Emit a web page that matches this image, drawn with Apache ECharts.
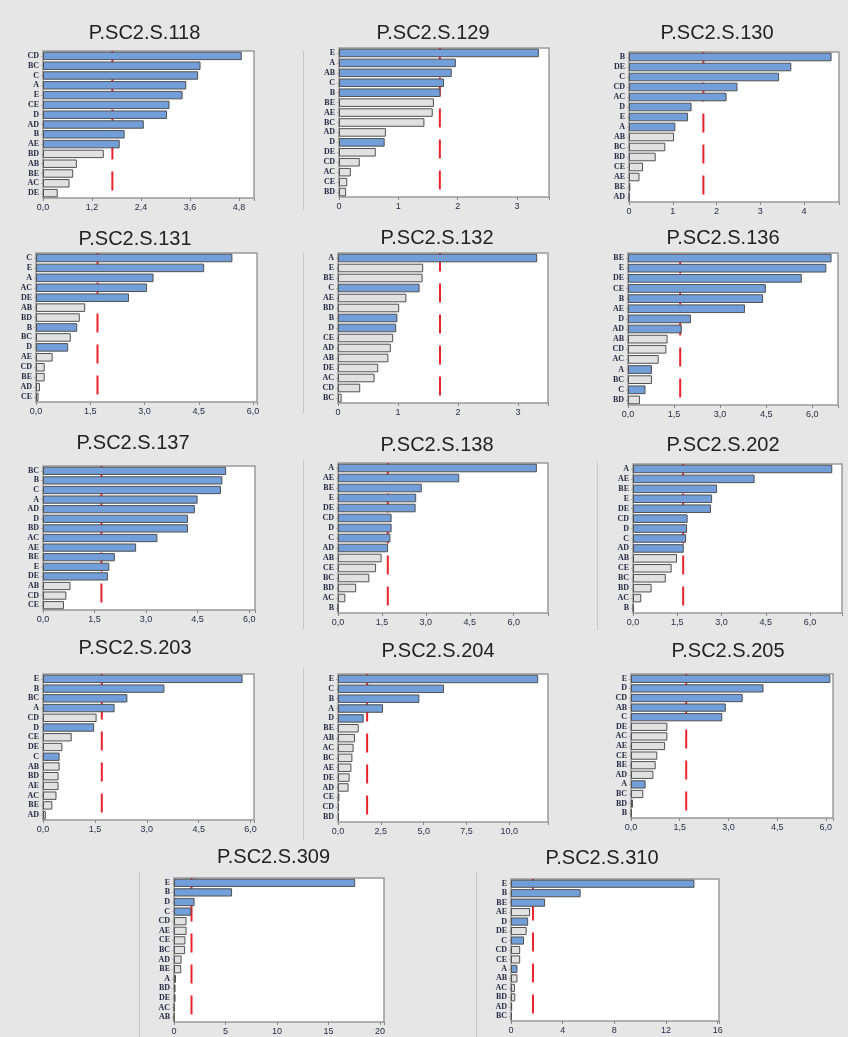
<!DOCTYPE html>
<html>
<head>
<meta charset="utf-8">
<script src="https://cdn.jsdelivr.net/npm/echarts@6/dist/echarts.min.js"></script>
<style>
  html, body { margin: 0; padding: 0; background: #e6e6e6; }
  #chart { width: 848px; height: 1037px; }
</style>
</head>
<body>
<div id="chart"></div>
<script>
// Pareto charts of standardized effects, one per sample.
// 1 = effect drawn in blue, 0 = effect drawn in grey.

const CRITICAL_T = 1.7;

const terms118   = ['CD','BC','C','A','E','CE','D','AD','B','AE','BD','AB','BE','AC','DE'];
const effects118 = [4.87,3.86,3.80,3.51,3.42,3.10,3.04,2.47,2.00,1.88,1.49,0.83,0.74,0.65,0.36];
const signif118  = [1,1,1,1,1,1,1,1,1,1,0,0,0,0,0];
const ticks118   = ['0,0','1,2','2,4','3,6','4,8'];

const terms129   = ['E','A','AB','C','B','BE','AE','BC','AD','D','DE','CD','AC','CE','BD'];
const effects129 = [3.37,1.97,1.90,1.77,1.71,1.60,1.58,1.44,0.79,0.77,0.62,0.35,0.20,0.14,0.12];
const signif129  = [1,1,1,1,1,0,0,0,0,1,0,0,0,0,0];
const ticks129   = ['0','1','2','3'];

const terms130   = ['B','DE','C','CD','AC','D','E','A','AB','BC','BD','CE','AE','BE','AD'];
const effects130 = [4.63,3.71,3.43,2.48,2.23,1.43,1.35,1.06,1.03,0.83,0.61,0.32,0.24,0.03,0.01];
const signif130  = [1,1,1,1,1,1,1,1,0,0,0,0,0,0,0];
const ticks130   = ['0','1','2','3','4'];

const terms131   = ['C','E','A','AC','DE','AB','BD','B','BC','D','AE','CD','BE','AD','CE'];
const effects131 = [5.43,4.65,3.25,3.07,2.57,1.36,1.21,1.14,0.96,0.89,0.46,0.24,0.24,0.11,0.07];
const signif131  = [1,1,1,1,1,0,0,1,0,1,0,0,0,0,0];
const ticks131   = ['0,0','1,5','3,0','4,5','6,0'];

const terms132   = ['A','E','BE','C','AE','BD','B','D','CE','AD','AB','DE','AC','CD','BC'];
const effects132 = [3.32,1.42,1.41,1.36,1.14,1.02,0.99,0.97,0.92,0.88,0.84,0.67,0.61,0.37,0.06];
const signif132  = [1,0,0,1,0,0,1,1,0,0,0,0,0,0,0];
const ticks132   = ['0','1','2','3'];

const terms136   = ['BE','E','DE','CE','B','AE','D','AD','AB','CD','AC','A','BC','C','BD'];
const effects136 = [6.63,6.46,5.66,4.49,4.40,3.81,2.05,1.75,1.29,1.25,1.00,0.78,0.78,0.57,0.39];
const signif136  = [1,1,1,1,1,1,1,1,0,0,0,1,0,1,0];
const ticks136   = ['0,0','1,5','3,0','4,5','6,0'];

const terms137   = ['BC','B','C','A','AD','D','BD','AC','AE','BE','E','DE','AB','CD','CE'];
const effects137 = [5.33,5.22,5.18,4.50,4.42,4.22,4.22,3.33,2.71,2.09,1.93,1.89,0.80,0.68,0.61];
const signif137  = [1,1,1,1,1,1,1,1,1,1,1,1,0,0,0];
const ticks137   = ['0,0','1,5','3,0','4,5','6,0'];

const terms138   = ['A','AE','BE','E','DE','CD','D','C','AD','AB','CE','BC','BD','AC','B'];
const effects138 = [6.79,4.14,2.86,2.67,2.65,1.83,1.83,1.79,1.71,1.49,1.30,1.07,0.62,0.25,0.01];
const signif138  = [1,1,1,1,1,1,1,1,1,0,0,0,0,0,1];
const ticks138   = ['0,0','1,5','3,0','4,5','6,0'];

const terms202   = ['A','AE','BE','E','DE','CD','D','C','AD','AB','CE','BC','BD','AC','B'];
const effects202 = [6.75,4.12,2.85,2.68,2.64,1.85,1.83,1.80,1.72,1.49,1.31,1.11,0.63,0.28,0.02];
const signif202  = [1,1,1,1,1,1,1,1,1,0,0,0,0,0,1];
const ticks202   = ['0,0','1,5','3,0','4,5','6,0'];

const terms203   = ['E','B','BC','A','CD','D','CE','DE','C','AB','BD','AE','AC','BE','AD'];
const effects203 = [5.77,3.51,2.44,2.07,1.55,1.48,0.83,0.56,0.48,0.48,0.45,0.45,0.39,0.27,0.08];
const signif203  = [1,1,1,1,0,1,0,0,1,0,0,0,0,0,0];
const ticks203   = ['0,0','1,5','3,0','4,5','6,0'];

const terms204   = ['E','C','B','A','D','BE','AB','AC','BC','AE','DE','AD','CE','CD','BD'];
const effects204 = [11.69,6.19,4.75,2.63,1.50,1.21,0.99,0.91,0.84,0.78,0.68,0.62,0.08,0.06,0.06];
const signif204  = [1,1,1,1,1,0,0,0,0,0,0,0,0,0,0];
const ticks204   = ['0,0','2,5','5,0','7,5','10,0'];

const terms205   = ['E','D','CD','AB','C','DE','AC','AE','CE','BE','AD','A','BC','BD','B'];
const effects205 = [6.14,4.08,3.44,2.92,2.81,1.12,1.12,1.05,0.81,0.76,0.69,0.45,0.38,0.06,0.02];
const signif205  = [1,1,1,1,1,0,0,0,0,0,0,1,0,0,1];
const ticks205   = ['0,0','1,5','3,0','4,5','6,0'];

const terms309   = ['E','B','D','C','CD','AE','CE','BC','AD','BE','A','BD','DE','AC','AB'];
const effects309 = [17.6,5.64,2.00,1.67,1.22,1.22,1.11,1.08,0.74,0.70,0.19,0.15,0.15,0.04,0.04];
const signif309  = [1,1,1,1,0,0,0,0,0,0,1,0,0,0,0];
const ticks309   = ['0','5','10','15','20'];

const terms310   = ['E','B','BE','AE','D','DE','C','CD','CE','A','AB','AC','BD','AD','BC'];
const effects310 = [14.2,5.39,2.64,1.48,1.33,1.21,1.01,0.71,0.71,0.50,0.50,0.30,0.33,0.09,0.06];
const signif310  = [1,1,1,0,1,0,1,0,0,1,0,0,0,0,0];
const ticks310   = ['0','4','8','12','16'];

// Panel layout: plot box [left, top, width, height], title centre, axis step and end.
const panels = [
  { name: 'P.SC2.S.118', terms: terms118, effects: effects118, signif: signif118, ticks: ticks118, step: 1.2, max: 5.17, box: [43, 51, 211, 147],  title: [144.5, 33] },
  { name: 'P.SC2.S.129', terms: terms129, effects: effects129, signif: signif129, ticks: ticks129, step: 1,   max: 3.54, box: [339, 48, 210, 149], title: [433, 33] },
  { name: 'P.SC2.S.130', terms: terms130, effects: effects130, signif: signif130, ticks: ticks130, step: 1,   max: 4.80, box: [629, 52, 210, 150], title: [717, 33] },
  { name: 'P.SC2.S.131', terms: terms131, effects: effects131, signif: signif131, ticks: ticks131, step: 1.5, max: 6.11, box: [36, 253, 221, 149], title: [135, 239] },
  { name: 'P.SC2.S.132', terms: terms132, effects: effects132, signif: signif132, ticks: ticks132, step: 1,   max: 3.50, box: [338, 253, 210, 150], title: [437, 238] },
  { name: 'P.SC2.S.136', terms: terms136, effects: effects136, signif: signif136, ticks: ticks136, step: 1.5, max: 6.84, box: [628, 253, 210, 152], title: [723, 238] },
  { name: 'P.SC2.S.137', terms: terms137, effects: effects137, signif: signif137, ticks: ticks137, step: 1.5, max: 6.17, box: [43, 466, 212, 144], title: [133, 443] },
  { name: 'P.SC2.S.138', terms: terms138, effects: effects138, signif: signif138, ticks: ticks138, step: 1.5, max: 7.17, box: [338, 463, 210, 150], title: [437, 445] },
  { name: 'P.SC2.S.202', terms: terms202, effects: effects202, signif: signif202, ticks: ticks202, step: 1.5, max: 7.08, box: [633, 464, 209, 149], title: [723, 445] },
  { name: 'P.SC2.S.203', terms: terms203, effects: effects203, signif: signif203, ticks: ticks203, step: 1.5, max: 6.10, box: [43, 674, 211, 146], title: [135, 648] },
  { name: 'P.SC2.S.204', terms: terms204, effects: effects204, signif: signif204, ticks: ticks204, step: 2.5, max: 12.26, box: [338, 674, 210, 148], title: [438, 651] },
  { name: 'P.SC2.S.205', terms: terms205, effects: effects205, signif: signif205, ticks: ticks205, step: 1.5, max: 6.22, box: [631, 674, 202, 144], title: [728, 651] },
  { name: 'P.SC2.S.309', terms: terms309, effects: effects309, signif: signif309, ticks: ticks309, step: 5,   max: 20.4, box: [174, 878, 210, 144], title: [273.5, 857] },
  { name: 'P.SC2.S.310', terms: terms310, effects: effects310, signif: signif310, ticks: ticks310, step: 4,   max: 16.1, box: [511, 879, 208, 142], title: [602, 858] }
];

const BLUE = '#729fd9';
const GREY = '#e1e1e1';
const EDGE = '#505050';
const LABEL = '#2b2b48';

const grid = [], xAxis = [], yAxis = [], series = [], graphic = [];

panels.forEach((p, i) => {
  const [l, t, w, h] = p.box;
  grid.push({
    left: l, top: t, width: w, height: h,
    show: true, backgroundColor: '#ffffff',
    borderColor: '#9a9a9a', borderWidth: 1.5
  });
  xAxis.push({
    type: 'value', gridIndex: i, min: 0, max: p.max, interval: p.step,
    axisLine: { show: false },
    splitLine: { show: false },
    axisTick: { show: true, length: 3, lineStyle: { color: '#888' } },
    axisLabel: {
      margin: 5, fontSize: 9, color: LABEL, fontFamily: 'Liberation Sans',
      formatter: (v) => {
        const k = Math.round(v / p.step);
        return Math.abs(v - k * p.step) < 1e-6 && k < p.ticks.length ? p.ticks[k] : '';
      }
    }
  });
  // category axis for the effect terms
  yAxis.push({
    type: 'category', gridIndex: i, data: p.terms, inverse: true,
    axisLine: { show: false },
    axisTick: { show: true, alignWithLabel: true, length: 2, lineStyle: { color: '#aaa' } },
    axisLabel: {
      margin: 4, fontSize: 8, fontWeight: 'bold', color: LABEL,
      fontFamily: 'Liberation Sans Narrow', interval: 0
    }
  });
  // hidden 0..1 axis that carries the reference line from bottom to top
  yAxis.push({
    type: 'value', gridIndex: i, min: 0, max: 1, show: false,
    splitLine: { show: false }
  });
  series.push({
    type: 'line', xAxisIndex: i, yAxisIndex: 2 * i + 1, z: 1,
    symbol: 'none', silent: true,
    data: [[CRITICAL_T, 0], [CRITICAL_T, 1]],
    lineStyle: { color: '#e8242c', width: 2, type: [19, 12], dashOffset: 23.5 }
  });
  series.push({
    type: 'bar', xAxisIndex: i, yAxisIndex: 2 * i, z: 2,
    barCategoryGap: '14%',
    data: p.effects.map((v, j) => ({
      value: v,
      itemStyle: { color: p.signif[j] ? BLUE : GREY }
    })),
    itemStyle: { borderColor: EDGE, borderWidth: 1 }
  });
  graphic.push({
    type: 'text', x: p.title[0], y: p.title[1], z: 10,
    style: {
      text: p.name, align: 'center', verticalAlign: 'middle',
      font: '20px "Liberation Sans", Arial, sans-serif', fill: '#222'
    }
  });
});

// thin separators between pasted panels
const seps = [
  [303.5, 50, 210], [303.5, 253, 414], [303.5, 460, 630], [303.5, 668, 840],
  [597.5, 462, 630], [139.5, 872, 1037], [476.5, 872, 1037]
];
seps.forEach(([x, y1, y2]) => graphic.push({
  type: 'line', z: 0, shape: { x1: x, y1: y1, x2: x, y2: y2 },
  style: { stroke: '#c9c9c9', lineWidth: 1 }
}));

const chart = echarts.init(document.getElementById('chart'), null, { renderer: 'canvas' });
chart.setOption({
  backgroundColor: '#e6e6e6',
  animation: false,
  grid, xAxis, yAxis, series, graphic
});
</script>
</body>
</html>
